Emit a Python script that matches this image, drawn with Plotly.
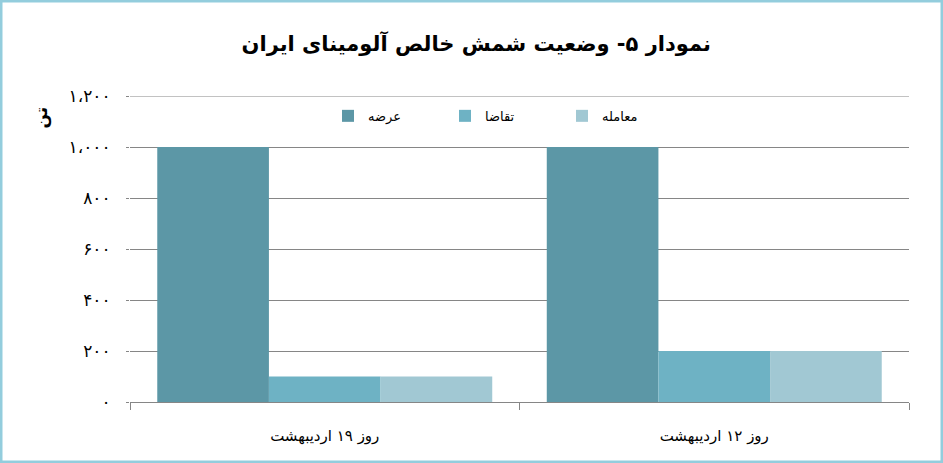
import plotly.graph_objects as go

categories = ["روز ۱۹ اردیبهشت", "روز ۱۲ اردیبهشت"]
series_names = ["عرضه", "تقاضا", "معامله"]
supply = [1000, 1000]
demand = [100, 200]
traded = [100, 200]
tick_vals = [0, 200, 400, 600, 800, 1000, 1200]
tick_text = ["۰", "۲۰۰", "۴۰۰", "۶۰۰", "۸۰۰", "۱،۰۰۰", "۱،۲۰۰"]
title_text = "نمودار ۵- وضعیت شمش خالص آلومینای ایران"
unit_text = "تن"

colors = ["#5C97A6", "#6EB2C4", "#A1C8D3"]

W, H = 943, 463
ml, mr, mt, mb = 130, 34, 96, 61
pw, ph = W - ml - mr, H - mt - mb

fig = go.Figure()
for name, vals, c in zip(series_names, [supply, demand, traded], colors):
    fig.add_trace(go.Bar(x=categories, y=vals, name=name, marker=dict(color=c, line=dict(width=0))))

font = "DejaVu Sans"
fig.update_layout(
    width=W, height=H,
    margin=dict(l=ml, r=mr, t=mt, b=mb),
    paper_bgcolor="white", plot_bgcolor="white",
    barmode="group", bargap=0.14, bargroupgap=0,
    font=dict(family=font, color="#000000"),
    title=dict(text="<b>" + title_text + "</b>", x=0.505, xanchor="center", y=0.905, yanchor="middle",
               font=dict(size=21, family=font, color="#000000")),
    legend=dict(orientation="h", x=(328 - ml) / pw, xanchor="left", y=0.935, yanchor="middle",
                font=dict(size=13, family=font), bgcolor="rgba(0,0,0,0)", traceorder="normal",
                itemwidth=30, entrywidth=72),
    xaxis=dict(showline=True, linecolor="#868686", linewidth=1, ticks="outside", tickson="boundaries",
               ticklen=7, tickcolor="#868686", tickfont=dict(size=15, family=font), showgrid=False),
    yaxis=dict(range=[0, 1200], tickvals=tick_vals, ticktext=tick_text, showgrid=True, gridcolor="#868686",
               gridwidth=1, showline=False, ticks="outside", ticklen=3, tickcolor="#868686",
               tickfont=dict(size=17, family=font), zeroline=False),
    showlegend=True,
)
fig.update_xaxes(ticklabelstandoff=20)
fig.update_yaxes(ticklabelstandoff=12)

fig.add_shape(type="line", xref="paper", yref="y", x0=0, x1=1, y0=tick_vals[-1], y1=tick_vals[-1],
              line=dict(color="#868686", width=1), layer="below")

fig.add_annotation(text="<b>" + unit_text + "</b>", xref="paper", yref="paper",
                   x=(28 - ml) / pw, y=1 - (104 - mt) / ph, showarrow=False, textangle=-90,
                   font=dict(size=17, family=font, color="#000000"))

fig.add_shape(type="rect", xref="paper", yref="paper",
              x0=(1 - ml) / pw, x1=(W - 1 - ml) / pw,
              y0=-(mb - 1) / ph, y1=1 + (mt - 1) / ph,
              line=dict(color="#93CDDD", width=3), fillcolor="rgba(0,0,0,0)", layer="above")

fig.write_html("out.html", config={"displayModeBar": False},
               post_script="document.body.style.margin='0';document.body.style.overflow='hidden';")
